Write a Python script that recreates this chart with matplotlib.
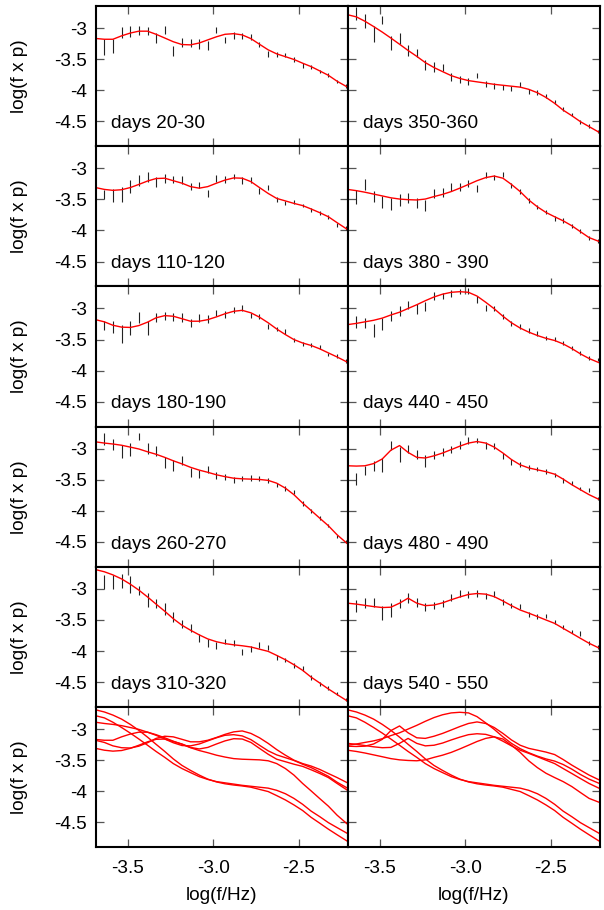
"""
Спектры мощности по интервалам дней.

Сетка 6x2: в каждой панели точки с погрешностями и сглаженная
кривая, в нижнем ряду все кривые столбца наложены друг на друга.
"""

import matplotlib
matplotlib.use("Agg")
import matplotlib.pyplot as plt


# Частоты точек, log(f/Hz)
FREQ = [-3.638, -3.588, -3.537, -3.486, -3.436, -3.385, -3.335, -3.284,
        -3.234, -3.183, -3.133, -3.082, -3.032, -2.981, -2.931, -2.880,
        -2.830, -2.779, -2.729, -2.678, -2.628, -2.577, -2.527, -2.476,
        -2.426, -2.375, -2.325, -2.274, -2.224]

# Частоты, на которых снята сглаженная кривая
FIT_FREQ = [-3.690, -3.638, -3.588, -3.537, -3.486, -3.436, -3.385, -3.335,
            -3.284, -3.234, -3.183, -3.133, -3.082, -3.032, -2.981, -2.931,
            -2.880, -2.830, -2.779, -2.729, -2.678, -2.628, -2.577, -2.527,
            -2.476, -2.426, -2.375, -2.325, -2.274, -2.213]

XTICKS = [-3.5, -3.0, -2.5]
XTICK_LABELS = ["-3.5", "-3.0", "-2.5"]
YTICKS = [-3.0, -3.5, -4.0, -4.5]
YTICK_LABELS = ["-3", "-3.5", "-4", "-4.5"]

LEFT_LABELS = ["days 20-30", "days 110-120", "days 180-190",
               "days 260-270", "days 310-320"]
RIGHT_LABELS = ["days 350-360", "days 380 - 390", "days 440 - 450",
                "days 480 - 490", "days 540 - 550"]

# days 20-30
d020_mid = [-3.30, -3.285, -3.065, -3.05, -3.04, -3.045, -3.16, -3.03, -3.37,
            -3.23, -3.24, -3.26, -3.28, -3.03, -3.19, -3.12, -3.13, -3.145,
            -3.27, -3.42, -3.425, -3.435, -3.505, -3.60, -3.625, -3.70, -3.76,
            -3.86, -3.93]
d020_err = [.13, .11, .09, .09, .075, .06, .075, .07, .08, .07, .06, .08, .07,
            .05, .05, .05, .05, .045, .04, .045, .035, .035, .035, .035, .03,
            .03, .03, .03, .03]
d020_fit = [-3.167, -3.18, -3.18, -3.125, -3.08, -3.05, -3.05, -3.10, -3.16,
            -3.22, -3.265, -3.27, -3.24, -3.19, -3.14, -3.10, -3.09, -3.11,
            -3.17, -3.26, -3.35, -3.415, -3.46, -3.505, -3.565, -3.62, -3.69,
            -3.76, -3.855, -3.95]

# days 110-120
d110_mid = [-3.425, -3.435, -3.415, -3.295, -3.195, -3.145, -3.22, -3.17,
            -3.18, -3.19, -3.29, -3.27, -3.41, -3.165, -3.18, -3.135, -3.195,
            -3.19, -3.365, -3.305, -3.495, -3.555, -3.545, -3.60, -3.67,
            -3.715, -3.785, -3.915, -3.96]
d110_err = [.075, .10, .12, .11, .09, .08, .075, .07, .06, .065, .06, .055,
            .06, .06, .05, .045, .05, .045, .045, .04, .04, .035, .035, .03,
            .03, .03, .03, .03, .025]
d110_fit = [-3.31, -3.34, -3.355, -3.345, -3.31, -3.26, -3.205, -3.165, -3.16,
            -3.20, -3.24, -3.295, -3.32, -3.295, -3.24, -3.19, -3.155, -3.16,
            -3.215, -3.31, -3.405, -3.485, -3.525, -3.565, -3.60, -3.655,
            -3.715, -3.78, -3.875, -3.985]

# days 180-190
d180_mid = [-3.275, -3.295, -3.41, -3.31, -3.15, -3.31, -3.15, -3.12, -3.14,
            -3.15, -3.23, -3.155, -3.17, -3.075, -3.095, -3.02, -2.99, -3.11,
            -3.125, -3.295, -3.33, -3.37, -3.505, -3.57, -3.59, -3.625, -3.74,
            -3.77, -3.85]
d180_err = [.075, .095, .15, .11, .09, .11, .07, .06, .06, .07, .065, .06,
            .06, .05, .055, .05, .05, .04, .04, .04, .035, .035, .035, .03,
            .03, .03, .03, .03, .03]
d180_fit = [-3.18, -3.215, -3.27, -3.30, -3.305, -3.275, -3.22, -3.15, -3.115,
            -3.125, -3.165, -3.205, -3.205, -3.18, -3.135, -3.085, -3.045,
            -3.03, -3.07, -3.14, -3.23, -3.33, -3.42, -3.50, -3.555, -3.595,
            -3.65, -3.715, -3.78, -3.865]

# days 260-270
d260_mid = [-2.845, -2.93, -3.045, -3.015, -2.805, -2.995, -3.03, -3.22,
            -3.275, -3.19, -3.38, -3.405, -3.34, -3.435, -3.46, -3.505, -3.485,
            -3.47, -3.485, -3.51, -3.58, -3.64, -3.695, -3.88, -4.005, -4.12,
            -4.235, -4.415, -4.50]
d260_err = [.09, .085, .11, .11, .06, .085, .08, .09, .09, .065, .07, .065,
            .055, .055, .045, .05, .04, .045, .04, .04, .035, .035, .035, .035,
            .03, .03, .03, .025, .025]
d260_fit = [-2.89, -2.91, -2.925, -2.945, -2.975, -3.005, -3.05, -3.09, -3.14,
            -3.195, -3.245, -3.30, -3.345, -3.38, -3.42, -3.45, -3.475, -3.485,
            -3.49, -3.495, -3.51, -3.555, -3.635, -3.74, -3.875, -3.995, -4.12,
            -4.24, -4.385, -4.53]

# days 310-320
d310_mid = [-2.89, -2.89, -2.87, -2.93, -3.03, -3.18, -3.235, -3.33, -3.45,
            -3.57, -3.63, -3.785, -3.865, -3.915, -3.845, -3.875, -4.015,
            -3.97, -3.90, -3.95, -4.11, -4.145, -4.23, -4.28, -4.425, -4.525,
            -4.595, -4.69, -4.78]
d310_err = [.11, .12, .11, .135, .07, .11, .08, .095, .08, .065, .06, .065,
            .065, .06, .045, .05, .055, .045, .045, .04, .04, .035, .035, .035,
            .035, .03, .03, .025, .025]
d310_fit = [-2.69, -2.725, -2.775, -2.84, -2.925, -3.02, -3.13, -3.245, -3.36,
            -3.48, -3.585, -3.665, -3.74, -3.805, -3.85, -3.88, -3.90, -3.915,
            -3.935, -3.97, -4.005, -4.07, -4.14, -4.22, -4.31, -4.42, -4.515,
            -4.61, -4.70, -4.805]

# days 350-360
d350_mid = [-2.765, -2.89, -3.10, -2.87, -3.235, -3.165, -3.355, -3.40,
            -3.595, -3.625, -3.635, -3.79, -3.83, -3.86, -3.76, -3.90, -3.935,
            -3.955, -3.975, -3.905, -4.02, -4.03, -4.09, -4.19, -4.305, -4.39,
            -4.515, -4.57, -4.66]
d350_err = [.10, .11, .13, .07, .11, .085, .09, .06, .085, .075, .06, .065,
            .06, .05, .045, .055, .05, .045, .045, .045, .04, .04, .035, .035,
            .035, .03, .03, .03, .025]
d350_fit = [-2.785, -2.82, -2.89, -2.975, -3.065, -3.16, -3.26, -3.36, -3.455,
            -3.555, -3.635, -3.70, -3.765, -3.81, -3.845, -3.865, -3.885,
            -3.905, -3.92, -3.935, -3.95, -3.985, -4.04, -4.115, -4.21, -4.32,
            -4.41, -4.505, -4.585, -4.68]

# days 380-390
d380_mid = [-3.46, -3.265, -3.455, -3.545, -3.575, -3.51, -3.48, -3.565, -3.60,
            -3.41, -3.39, -3.30, -3.30, -3.24, -3.32, -3.11, -3.15, -3.10,
            -3.275, -3.375, -3.52, -3.625, -3.705, -3.81, -3.84, -3.93, -4.01,
            -4.12, -4.17]
d380_err = [.11, .085, .095, .10, .095, .095, .075, .08, .095, .07, .065, .07,
            .06, .055, .055, .05, .045, .045, .045, .04, .04, .035, .035, .035,
            .035, .03, .03, .03, .025]
d380_fit = [-3.34, -3.36, -3.385, -3.415, -3.445, -3.475, -3.495, -3.505,
            -3.51, -3.495, -3.455, -3.42, -3.375, -3.32, -3.26, -3.20, -3.15,
            -3.125, -3.16, -3.26, -3.375, -3.51, -3.62, -3.71, -3.78, -3.845,
            -3.925, -4.02, -4.115, -4.18]

# days 440-450
d440_mid = [-3.215, -3.23, -3.355, -3.25, -3.125, -3.045, -2.945, -3.015,
            -2.97, -2.80, -2.80, -2.76, -2.72, -2.72, -2.855, -2.99, -3.00,
            -3.13, -3.24, -3.285, -3.35, -3.40, -3.48, -3.495, -3.56, -3.64,
            -3.715, -3.795, -3.82]
d440_err = [.095, .08, .10, .10, .08, .08, .07, .08, .07, .065, .055, .055,
            .04, .05, .05, .05, .04, .045, .04, .04, .04, .035, .035, .035,
            .035, .03, .03, .03, .03]
d440_fit = [-3.26, -3.24, -3.215, -3.19, -3.155, -3.105, -3.06, -3.00, -2.94,
            -2.875, -2.815, -2.77, -2.74, -2.73, -2.74, -2.80, -2.90, -3.005,
            -3.125, -3.23, -3.315, -3.38, -3.435, -3.48, -3.515, -3.57, -3.645,
            -3.73, -3.805, -3.875]

# days 480-490
d480_mid = [-3.485, -3.35, -3.285, -3.265, -2.95, -3.095, -3.005, -3.095,
            -3.195, -3.10, -3.055, -3.01, -2.94, -2.865, -2.87, -2.95, -2.955,
            -3.12, -3.21, -3.26, -3.31, -3.33, -3.365, -3.425, -3.51, -3.55,
            -3.64, -3.665, -3.80]
d480_err = [.095, .07, .08, .115, .075, .125, .07, .07, .10, .06, .065, .06,
            .06, .055, .045, .055, .05, .05, .045, .04, .04, .035, .035, .035,
            .04, .03, .03, .035, .03]
d480_fit = [-3.275, -3.28, -3.275, -3.24, -3.165, -3.025, -2.95, -3.06, -3.14,
            -3.15, -3.115, -3.07, -3.015, -2.96, -2.91, -2.885, -2.91, -2.975,
            -3.07, -3.175, -3.26, -3.31, -3.34, -3.37, -3.41, -3.49, -3.58,
            -3.66, -3.74, -3.82]

# days 540-550
d540_mid = [-3.28, -3.23, -3.22, -3.39, -3.34, -3.24, -3.145, -3.22, -3.29,
            -3.265, -3.235, -3.14, -3.075, -3.095, -3.075, -3.115, -3.085,
            -3.21, -3.265, -3.285, -3.42, -3.44, -3.435, -3.53, -3.615, -3.685,
            -3.72, -3.865, -3.94]
d540_err = [.10, .08, .075, .11, .11, .07, .075, .075, .06, .06, .06, .06,
            .06, .055, .05, .055, .045, .045, .045, .04, .04, .04, .035, .035,
            .035, .03, .035, .03, .03]
d540_fit = [-3.23, -3.245, -3.265, -3.285, -3.30, -3.295, -3.23, -3.15, -3.23,
            -3.27, -3.26, -3.225, -3.175, -3.13, -3.09, -3.075, -3.085, -3.125,
            -3.195, -3.27, -3.34, -3.39, -3.445, -3.50, -3.555, -3.635, -3.715,
            -3.795, -3.875, -3.955]


FIG_W, FIG_H = 604, 910
COL_X = [95.5, 347.5]
COL_W = 252.0
TOP = 6.0
ROW_H = 140.2
XLIM = (-3.69, -2.213)
YLIM = (-4.9, -2.645)
FONT_SIZE = 13.7


def make_axes(fig, row, col):
    """Создание панели по номеру строки и столбца."""
    left = COL_X[col] / FIG_W
    bottom = 1 - (TOP + (row + 1) * ROW_H) / FIG_H
    ax = fig.add_axes([left, bottom, COL_W / FIG_W, ROW_H / FIG_H])

    ax.set_xlim(*XLIM)
    ax.set_ylim(*YLIM)
    ax.set_xticks(XTICKS)
    ax.set_yticks(YTICKS)
    ax.tick_params(direction="in", top=True, right=True, length=6,
                   width=0.9, color="#555555", labelsize=FONT_SIZE)
    ax.tick_params(axis="y", pad=6)
    ax.tick_params(axis="x", pad=9)

    if row == 5:
        ax.set_xticklabels(XTICK_LABELS)
    else:
        ax.tick_params(labelbottom=False)

    if col == 0:
        ax.set_yticklabels(YTICK_LABELS)
    else:
        ax.tick_params(labelleft=False)

    for spine in ax.spines.values():
        spine.set_linewidth(1.5)

    return ax


def draw_panel(ax, mid, err, fit, label):
    """Точки с погрешностями, кривая и подпись."""
    low = [m - e for m, e in zip(mid, err)]
    high = [m + e for m, e in zip(mid, err)]
    ax.vlines(FREQ, low, high, colors="#222222", linewidth=0.8)
    ax.plot(FIT_FREQ, fit, color="red", linewidth=1.0)
    ax.text(0.062, 0.13, label, transform=ax.transAxes, fontsize=FONT_SIZE)


def main():
    """Основная функция."""
    plt.rcParams["font.family"] = ["Liberation Sans", "DejaVu Sans"]

    left = [(d020_mid, d020_err, d020_fit), (d110_mid, d110_err, d110_fit),
            (d180_mid, d180_err, d180_fit), (d260_mid, d260_err, d260_fit),
            (d310_mid, d310_err, d310_fit)]
    right = [(d350_mid, d350_err, d350_fit), (d380_mid, d380_err, d380_fit),
             (d440_mid, d440_err, d440_fit), (d480_mid, d480_err, d480_fit),
             (d540_mid, d540_err, d540_fit)]

    fig = plt.figure(figsize=(FIG_W / 100, FIG_H / 100), dpi=100)

    for col, (panels, labels) in enumerate([(left, LEFT_LABELS),
                                            (right, RIGHT_LABELS)]):
        for row, (mid, err, fit) in enumerate(panels):
            ax = make_axes(fig, row, col)
            draw_panel(ax, mid, err, fit, labels[row])

    # Нижний ряд: все кривые столбца вместе с соседней по времени
    left_fits = [p[2] for p in left] + [d350_fit]
    right_fits = [p[2] for p in right] + [d310_fit]
    for col, fits in enumerate([left_fits, right_fits]):
        ax = make_axes(fig, 5, col)
        for fit in fits:
            ax.plot(FIT_FREQ, fit, color="red", linewidth=1.0)

    for row in range(6):
        y_center = 1 - (TOP + (row + 0.5) * ROW_H) / FIG_H
        fig.text(19.5 / FIG_W, y_center, "log(f x p)", rotation=90,
                 ha="center", va="center", fontsize=FONT_SIZE)

    for col in range(2):
        x_center = (COL_X[col] + COL_W / 2) / FIG_W
        fig.text(x_center, 1 - 896 / FIG_H, "log(f/Hz)",
                 ha="center", va="center", fontsize=FONT_SIZE)

    fig.savefig("out.png", dpi=100)
    plt.close(fig)


if __name__ == "__main__":
    main()
